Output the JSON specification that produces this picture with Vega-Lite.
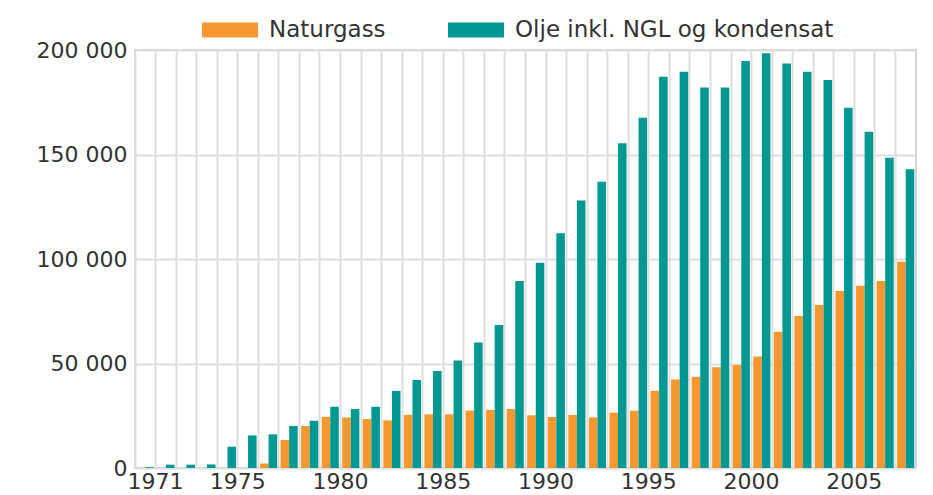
{
  "$schema": "https://vega.github.io/schema/vega-lite/v6.json",
  "autosize": {"type": "none"},
  "padding": {"left": 135, "top": 50, "right": 17, "bottom": 27},
  "width": 781,
  "height": 418,
  "background": "white",
  "config": {
    "font": "DejaVu Sans",
    "view": {"stroke": "#d4d4d4", "strokeWidth": 2}
  },
  "data": {
    "values": [
      {"year": 1971, "serie": "Naturgass", "value": 0},
      {"year": 1972, "serie": "Naturgass", "value": 0},
      {"year": 1973, "serie": "Naturgass", "value": 0},
      {"year": 1974, "serie": "Naturgass", "value": 0},
      {"year": 1975, "serie": "Naturgass", "value": 0},
      {"year": 1976, "serie": "Naturgass", "value": 0},
      {"year": 1977, "serie": "Naturgass", "value": 2200},
      {"year": 1978, "serie": "Naturgass", "value": 13400},
      {"year": 1979, "serie": "Naturgass", "value": 20100},
      {"year": 1980, "serie": "Naturgass", "value": 24500},
      {"year": 1981, "serie": "Naturgass", "value": 24200},
      {"year": 1982, "serie": "Naturgass", "value": 23400},
      {"year": 1983, "serie": "Naturgass", "value": 22800},
      {"year": 1984, "serie": "Naturgass", "value": 25400},
      {"year": 1985, "serie": "Naturgass", "value": 25700},
      {"year": 1986, "serie": "Naturgass", "value": 25700},
      {"year": 1987, "serie": "Naturgass", "value": 27500},
      {"year": 1988, "serie": "Naturgass", "value": 27800},
      {"year": 1989, "serie": "Naturgass", "value": 28200},
      {"year": 1990, "serie": "Naturgass", "value": 25200},
      {"year": 1991, "serie": "Naturgass", "value": 24400},
      {"year": 1992, "serie": "Naturgass", "value": 25400},
      {"year": 1993, "serie": "Naturgass", "value": 24200},
      {"year": 1994, "serie": "Naturgass", "value": 26500},
      {"year": 1995, "serie": "Naturgass", "value": 27400},
      {"year": 1996, "serie": "Naturgass", "value": 36900},
      {"year": 1997, "serie": "Naturgass", "value": 42400},
      {"year": 1998, "serie": "Naturgass", "value": 43700},
      {"year": 1999, "serie": "Naturgass", "value": 48200},
      {"year": 2000, "serie": "Naturgass", "value": 49300},
      {"year": 2001, "serie": "Naturgass", "value": 53300},
      {"year": 2002, "serie": "Naturgass", "value": 65200},
      {"year": 2003, "serie": "Naturgass", "value": 72700},
      {"year": 2004, "serie": "Naturgass", "value": 78000},
      {"year": 2005, "serie": "Naturgass", "value": 84700},
      {"year": 2006, "serie": "Naturgass", "value": 87200},
      {"year": 2007, "serie": "Naturgass", "value": 89500},
      {"year": 2008, "serie": "Naturgass", "value": 98700},
      {"year": 1971, "serie": "Olje inkl. NGL og kondensat", "value": 400},
      {"year": 1972, "serie": "Olje inkl. NGL og kondensat", "value": 1600},
      {"year": 1973, "serie": "Olje inkl. NGL og kondensat", "value": 1600},
      {"year": 1974, "serie": "Olje inkl. NGL og kondensat", "value": 1700},
      {"year": 1975, "serie": "Olje inkl. NGL og kondensat", "value": 10200},
      {"year": 1976, "serie": "Olje inkl. NGL og kondensat", "value": 15600},
      {"year": 1977, "serie": "Olje inkl. NGL og kondensat", "value": 16100},
      {"year": 1978, "serie": "Olje inkl. NGL og kondensat", "value": 20100},
      {"year": 1979, "serie": "Olje inkl. NGL og kondensat", "value": 22600},
      {"year": 1980, "serie": "Olje inkl. NGL og kondensat", "value": 29300},
      {"year": 1981, "serie": "Olje inkl. NGL og kondensat", "value": 28200},
      {"year": 1982, "serie": "Olje inkl. NGL og kondensat", "value": 29300},
      {"year": 1983, "serie": "Olje inkl. NGL og kondensat", "value": 36900},
      {"year": 1984, "serie": "Olje inkl. NGL og kondensat", "value": 42100},
      {"year": 1985, "serie": "Olje inkl. NGL og kondensat", "value": 46400},
      {"year": 1986, "serie": "Olje inkl. NGL og kondensat", "value": 51400},
      {"year": 1987, "serie": "Olje inkl. NGL og kondensat", "value": 60100},
      {"year": 1988, "serie": "Olje inkl. NGL og kondensat", "value": 68400},
      {"year": 1989, "serie": "Olje inkl. NGL og kondensat", "value": 89500},
      {"year": 1990, "serie": "Olje inkl. NGL og kondensat", "value": 98200},
      {"year": 1991, "serie": "Olje inkl. NGL og kondensat", "value": 112300},
      {"year": 1992, "serie": "Olje inkl. NGL og kondensat", "value": 128000},
      {"year": 1993, "serie": "Olje inkl. NGL og kondensat", "value": 137000},
      {"year": 1994, "serie": "Olje inkl. NGL og kondensat", "value": 155400},
      {"year": 1995, "serie": "Olje inkl. NGL og kondensat", "value": 167600},
      {"year": 1996, "serie": "Olje inkl. NGL og kondensat", "value": 187200},
      {"year": 1997, "serie": "Olje inkl. NGL og kondensat", "value": 189600},
      {"year": 1998, "serie": "Olje inkl. NGL og kondensat", "value": 182100},
      {"year": 1999, "serie": "Olje inkl. NGL og kondensat", "value": 182100},
      {"year": 2000, "serie": "Olje inkl. NGL og kondensat", "value": 194700},
      {"year": 2001, "serie": "Olje inkl. NGL og kondensat", "value": 198400},
      {"year": 2002, "serie": "Olje inkl. NGL og kondensat", "value": 193600},
      {"year": 2003, "serie": "Olje inkl. NGL og kondensat", "value": 189600},
      {"year": 2004, "serie": "Olje inkl. NGL og kondensat", "value": 185600},
      {"year": 2005, "serie": "Olje inkl. NGL og kondensat", "value": 172400},
      {"year": 2006, "serie": "Olje inkl. NGL og kondensat", "value": 160900},
      {"year": 2007, "serie": "Olje inkl. NGL og kondensat", "value": 148500},
      {"year": 2008, "serie": "Olje inkl. NGL og kondensat", "value": 142900}
    ]
  },
  "mark": {"type": "bar"},
  "encoding": {
    "x": {
      "field": "year",
      "type": "ordinal",
      "scale": {"paddingInner": 0, "paddingOuter": 0},
      "axis": {
        "title": null,
        "bandPosition": 0,
        "grid": true,
        "gridColor": "#dedede",
        "gridWidth": 2,
        "ticks": false,
        "domain": false,
        "labelAngle": 0,
        "labelOffset": 10.28,
        "labelOverlap": false,
        "labelFontSize": 22,
        "labelColor": "#333333",
        "labelPadding": 3,
        "labelExpr": "datum.value == 1971 || datum.value % 5 == 0 ? datum.value : ''"
      }
    },
    "xOffset": {
      "field": "serie",
      "type": "nominal",
      "scale": {"domain": ["Naturgass", "Olje inkl. NGL og kondensat"], "paddingInner": 0, "paddingOuter": 0.2}
    },
    "y": {
      "field": "value",
      "type": "quantitative",
      "scale": {"domain": [0, 200000], "nice": false},
      "axis": {
        "title": null,
        "values": [0, 50000, 100000, 150000, 200000],
        "grid": true,
        "gridColor": "#dedede",
        "gridWidth": 2,
        "ticks": false,
        "domain": false,
        "labelFontSize": 22,
        "labelColor": "#333333",
        "labelPadding": 8,
        "labelExpr": "replace(format(datum.value, ','), ',', ' ')"
      }
    },
    "color": {
      "field": "serie",
      "type": "nominal",
      "scale": {"domain": ["Naturgass", "Olje inkl. NGL og kondensat"], "range": ["#f7972f", "#009893"]},
      "legend": {
        "title": null,
        "orient": "none",
        "direction": "horizontal",
        "legendX": 67,
        "legendY": -48,
        "padding": 0,
        "symbolType": "M-1,-0.27H1V0.27H-1Z",
        "symbolSize": 3136,
        "symbolStrokeWidth": 0,
        "symbolOpacity": 1,
        "labelFontSize": 23,
        "labelLimit": 0,
        "labelColor": "#333333",
        "labelOffset": 11,
        "columnPadding": 62
      }
    }
  }
}
